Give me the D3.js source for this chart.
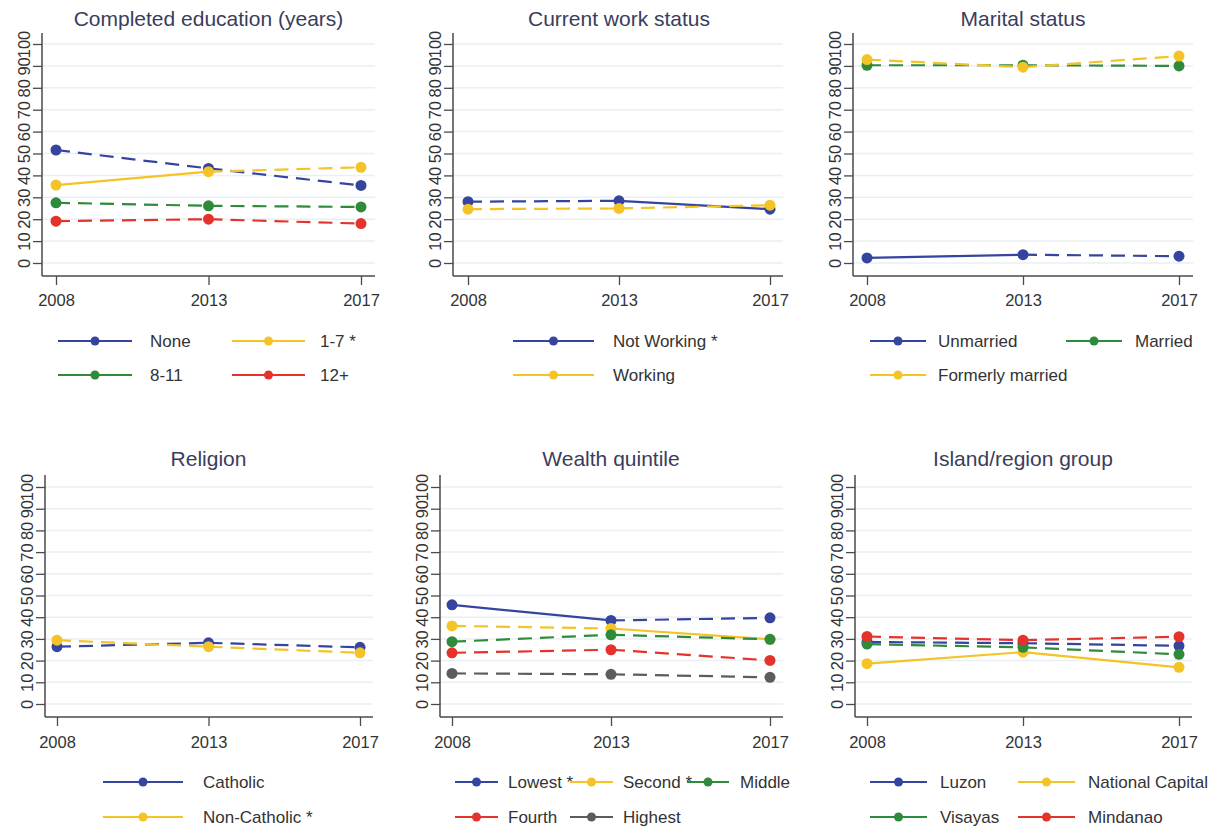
<!DOCTYPE html>
<html>
<head>
<meta charset="utf-8">
<script src="https://cdn.jsdelivr.net/npm/d3@7"></script>
<style>
body{margin:0;background:#fff;}
svg{display:block;}
text{font-family:"Liberation Sans",Arial,sans-serif;}
</style>
</head>
<body>
<div id="chart"></div>
<script>
// survey years and y ticks
var years = ["2008","2013","2017"];
var yTicks = [0,10,20,30,40,50,60,70,80,90,100];

// Completed education
var eduNames = ["None","1-7 *","8-11","12+"];
var eduValues = [[51.6,43.2,35.4],[35.6,41.7,43.7],[27.5,26.1,25.6],[19.1,20.0,18.0]];
var eduSolid = [[0,0],[1,0],[0,0],[0,0]];

// Current work status
var workNames = ["Not Working *","Working"];
var workValues = [[28.0,28.4,24.6],[24.6,24.9,26.4]];
var workSolid = [[0,1],[0,0]];

// Marital status
var maritalNames = ["Unmarried","Married","Formerly married"];
var maritalValues = [[2.3,3.8,3.1],[90.3,90.3,90.0],[92.9,89.4,94.5]];
var maritalSolid = [[1,0],[0,0],[0,0]];

// Religion
var religionNames = ["Catholic","Non-Catholic *"];
var religionValues = [[26.4,28.2,26.1],[29.4,26.4,23.6]];
var religionSolid = [[0,0],[0,0]];

// Wealth quintile
var wealthNames = ["Lowest *","Second *","Middle","Fourth","Highest"];
var wealthValues = [[45.7,38.5,39.7],[36.0,34.8,29.8],[28.7,31.9,29.8],[23.6,25.0,20.1],[14.1,13.7,12.3]];
var wealthSolid = [[1,0],[0,1],[0,0],[0,0],[0,0]];

// Island/region group
var regionNames = ["Luzon","National Capital","Visayas","Mindanao"];
var regionValues = [[28.6,28.0,26.8],[18.6,23.9,16.9],[27.6,26.1,22.9],[31.1,29.4,31.0]];
var regionSolid = [[0,0],[1,1],[0,0],[0,0]];

var blue = "#34449f", yellow = "#f3c327", green = "#2f8a3c", red = "#e5332b", gray = "#5c5c5c";

var panels = [
  {title:"Completed education (years)", names:eduNames, values:eduValues, solid:eduSolid,
   colors:[blue,yellow,green,red], row:0, axis:42, right:375, p0:56, p1:361,
   legend:[[58,132,150],[232,305,320]]},
  {title:"Current work status", names:workNames, values:workValues, solid:workSolid,
   colors:[blue,yellow], row:0, axis:453, right:783, p0:468, p1:770,
   legend:[[513,594,613]]},
  {title:"Marital status", names:maritalNames, values:maritalValues, solid:maritalSolid,
   colors:[blue,green,yellow], row:0, axis:853, right:1193, p0:867, p1:1179,
   legend:[[870,926,938],[1066,1122,1135]]},
  {title:"Religion", names:religionNames, values:religionValues, solid:religionSolid,
   colors:[blue,yellow], row:1, axis:45, right:373, p0:57, p1:360,
   legend:[[103,183,203]]},
  {title:"Wealth quintile", names:wealthNames, values:wealthValues, solid:wealthSolid,
   colors:[blue,yellow,green,red,gray], row:1, axis:440, right:783, p0:452, p1:770,
   legend:[[455,498,508],[570,613,623],[687,729,740]]},
  {title:"Island/region group", names:regionNames, values:regionValues, solid:regionSolid,
   colors:[blue,yellow,green,red], row:1, axis:855, right:1192, p0:867, p1:1179,
   legend:[[870,927,940],[1018,1075,1088]]}
];

var rows = [
  {y100:44, y0:263, top:33, base:276, title:26, tickLab:306, leg:[341,375]},
  {y100:487, y0:704, top:475, base:717, title:466, tickLab:748, leg:[782,817]}
];

var svg = d3.select("#chart").append("svg")
  .attr("width",1217)
  .attr("height",826);

var axisColor = "#4a4a4a";

panels.forEach(function(p){
  var r = rows[p.row];
  var g = svg.append("g");

  var xScale = d3.scalePoint().domain(years).range([p.p0,p.p1]);
  var yScale = d3.scaleLinear().domain([0,100]).range([r.y0,r.y100]);

  // faint gridlines
  g.selectAll("line.grid")
    .data(yTicks)
    .enter()
    .append("line")
    .attr("class","grid")
    .attr("x1",p.axis)
    .attr("x2",p.right)
    .attr("y1",function(d){ return yScale(d); })
    .attr("y2",function(d){ return yScale(d); })
    .attr("stroke","#eaeff3")
    .attr("stroke-width",1.5);

  // y axis with rotated labels
  var yAxis = d3.axisLeft(yScale).tickValues(yTicks).tickSize(9).tickSizeOuter(0);
  var ya = g.append("g")
    .attr("transform","translate("+p.axis+",0)")
    .call(yAxis);
  ya.select(".domain").remove();
  ya.selectAll(".tick line").attr("stroke",axisColor).attr("stroke-width",1.3);
  ya.selectAll(".tick text")
    .attr("x",null).attr("dy",null)
    .attr("transform","translate(-12,0) rotate(-90)")
    .attr("text-anchor","middle")
    .attr("font-size",16.5)
    .attr("fill","#333")
    .style("font-family","'Liberation Sans',Arial,sans-serif");
  g.append("line")
    .attr("x1",p.axis).attr("x2",p.axis)
    .attr("y1",r.top).attr("y2",r.base)
    .attr("stroke",axisColor).attr("stroke-width",1.5);

  // x axis
  var xAxis = d3.axisBottom(xScale).tickSize(9).tickPadding(8);
  var xa = g.append("g")
    .attr("transform","translate(0,"+r.base+")")
    .call(xAxis);
  xa.select(".domain").remove();
  xa.selectAll(".tick line").attr("stroke",axisColor).attr("stroke-width",1.3);
  xa.selectAll(".tick text")
    .attr("y",null).attr("dy",null)
    .attr("transform","translate(0,"+(r.tickLab-r.base)+")")
    .attr("font-size",16.5)
    .attr("fill","#333")
    .style("font-family","'Liberation Sans',Arial,sans-serif");
  g.append("line")
    .attr("x1",p.axis).attr("x2",p.right)
    .attr("y1",r.base).attr("y2",r.base)
    .attr("stroke",axisColor).attr("stroke-width",1.5);

  // title
  g.append("text")
    .attr("x",(p.p0+p.p1)/2)
    .attr("y",r.title)
    .attr("text-anchor","middle")
    .attr("font-size",21)
    .attr("fill","#3a3d5c")
    .text(p.title);

  // series lines, segment by segment
  var line = d3.line()
    .x(function(d){ return xScale(d[0]); })
    .y(function(d){ return yScale(d[1]); });

  p.values.forEach(function(vals,si){
    var pts = years.map(function(y,i){ return [y,vals[i]]; });
    for (var k=0;k<pts.length-1;k++){
      g.append("path")
        .attr("d",line([pts[k],pts[k+1]]))
        .attr("fill","none")
        .attr("stroke",p.colors[si])
        .attr("stroke-width",2.2)
        .attr("stroke-dasharray",p.solid[si][k] ? null : "14,8");
    }
    g.selectAll(null)
      .data(pts)
      .enter()
      .append("circle")
      .attr("cx",function(d){ return xScale(d[0]); })
      .attr("cy",function(d){ return yScale(d[1]); })
      .attr("r",5.5)
      .attr("fill",p.colors[si]);
  });

  // legend
  var ncol = p.legend.length;
  p.names.forEach(function(name,i){
    var c = p.legend[i % ncol];
    var ly = r.leg[Math.floor(i / ncol)];
    g.append("line")
      .attr("x1",c[0]).attr("x2",c[1])
      .attr("y1",ly).attr("y2",ly)
      .attr("stroke",p.colors[i])
      .attr("stroke-width",1.8);
    g.append("circle")
      .attr("cx",(c[0]+c[1])/2)
      .attr("cy",ly)
      .attr("r",4.5)
      .attr("fill",p.colors[i]);
    g.append("text")
      .attr("x",c[2])
      .attr("y",ly+6)
      .attr("font-size",17)
      .attr("fill","#333")
      .text(name);
  });
});
</script>
</body>
</html>
